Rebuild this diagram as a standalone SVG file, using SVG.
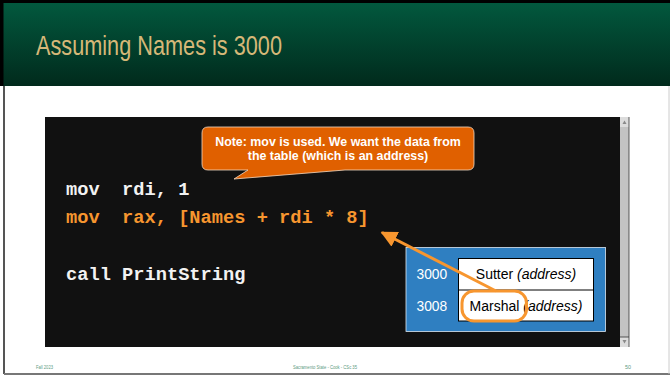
<svg xmlns="http://www.w3.org/2000/svg" width="670" height="376" viewBox="0 0 670 376">
  <defs>
    <linearGradient id="hdr" x1="0" y1="0" x2="0" y2="1">
      <stop offset="0" stop-color="#025a3f"/>
      <stop offset="1" stop-color="#012a1c"/>
    </linearGradient>
    <marker id="arrowHead" viewBox="0 0 10 10" refX="9" refY="5" markerWidth="5.5" markerHeight="5.5" orient="auto" markerUnits="strokeWidth">
      <path d="M0,0 L10,5 L0,10 Z" fill="#f7962f"/>
    </marker>
  </defs>
  <style>
    .code { font-family: "Liberation Mono", "Courier New", monospace; font-weight: bold; font-size: 18.7px; white-space: pre; }
    .white { fill: #f2f2f2; }
    .orange { fill: #f7962f; }
    .note { font-family: "Liberation Sans", Arial, sans-serif; font-weight: bold; font-size: 12.4px; fill: #ffffff; }
    .cell { font-family: "Liberation Sans", Arial, sans-serif; font-size: 14px; fill: #000000; }
    .addr { font-family: "Liberation Sans", Arial, sans-serif; font-size: 13.8px; fill: #ffffff; }
    .foot { font-family: "Liberation Sans", Arial, sans-serif; font-size: 5.5px; fill: #5c9b82; }
  </style>

  <!-- page -->
  <rect x="0" y="0" width="670" height="376" fill="#ffffff"/>
  <line x1="4" y1="86" x2="4" y2="374" stroke="#555555" stroke-width="2"/>
  <line x1="4" y1="374" x2="670" y2="374" stroke="#777777" stroke-width="2"/>
  <line x1="669" y1="86" x2="669" y2="374" stroke="#cccccc" stroke-width="1"/>

  <!-- title bar -->
  <g id="title">
    <rect x="0" y="0" width="670" height="86" fill="url(#hdr)"/>
    <rect x="0" y="0" width="670" height="3" fill="#000000"/>
    <rect x="0" y="0" width="3.5" height="86" fill="#000000"/>
    <text x="36" y="55" font-family="Liberation Sans, Arial, sans-serif" font-size="28" fill="#d6b878" textLength="246" lengthAdjust="spacingAndGlyphs">Assuming Names is 3000</text>
  </g>

  <!-- code panel -->
  <g id="code-panel">
    <rect x="45" y="117" width="575" height="230" fill="#111111"/>
    <rect x="620" y="117" width="9" height="230" fill="#c3c3c3"/>
    <rect x="620" y="117" width="9" height="10" fill="#dcdcdc"/>
    <rect x="620" y="337" width="9" height="10" fill="#dcdcdc"/>
    <line x1="620" y1="337" x2="629" y2="337" stroke="#333333" stroke-width="0.8"/>
    <line x1="629" y1="117" x2="629" y2="347" stroke="#333333" stroke-width="0.8"/>
    <path d="M622.5,124 L624.5,120.5 L626.5,124 Z" fill="#8a8a8a"/>
    <path d="M622.5,340 L624.5,343.5 L626.5,340 Z" fill="#8a8a8a"/>
    <text class="code white" x="66" y="195">mov  rdi, 1</text>
    <text class="code orange" x="66" y="223">mov  rax, [Names + rdi * 8]</text>
    <text class="code white" x="66" y="280">call PrintString</text>
  </g>

  <!-- callout note -->
  <g id="note">
    <path d="M208,127 H468 Q474,127 474,133 V164 Q474,170 468,170 H345 L234,179 L248,170 H208 Q202,170 202,164 V133 Q202,127 208,127 Z" fill="#e06000" stroke="#f4d9c2" stroke-width="0.8"/>
    <text class="note" x="338" y="146" text-anchor="middle">Note: mov is used. We want the data from</text>
    <text class="note" x="338" y="160" text-anchor="middle">the table (which is an address)</text>
  </g>

  <!-- memory table -->
  <g id="table">
    <rect x="406" y="247.5" width="199.5" height="84" fill="#2f7fc1" stroke="#dce8f3" stroke-width="0.8"/>
    <rect x="458.5" y="258.5" width="135" height="62.5" fill="#ffffff" stroke="#000000" stroke-width="1"/>
    <line x1="458.5" y1="290" x2="593.5" y2="290" stroke="#000000" stroke-width="1"/>
    <text class="addr" x="416.5" y="279">3000</text>
    <text class="addr" x="416.5" y="310.5">3008</text>
    <text class="cell" x="526" y="279" text-anchor="middle">Sutter <tspan font-style="italic">(address)</tspan></text>
    <text class="cell" x="526" y="310.5" text-anchor="middle">Marshal <tspan font-style="italic">(address)</tspan></text>
  </g>

  <!-- highlight and pointer -->
  <g id="connectors">
    <rect x="462" y="291" width="64.5" height="30" rx="12" ry="12" fill="none" stroke="#f7962f" stroke-width="3"/>
    <line x1="496" y1="291" x2="382" y2="232.5" stroke="#f7962f" stroke-width="3" marker-end="url(#arrowHead)"/>
  </g>

  <!-- footer -->
  <g id="footer">
    <text class="foot" x="36" y="369" textLength="17" lengthAdjust="spacingAndGlyphs">Fall 2023</text>
    <text class="foot" x="293" y="369" textLength="64" lengthAdjust="spacingAndGlyphs">Sacramento State - Cook - CSc 35</text>
    <text class="foot" x="625" y="369" textLength="6" lengthAdjust="spacingAndGlyphs">50</text>
  </g>
</svg>
